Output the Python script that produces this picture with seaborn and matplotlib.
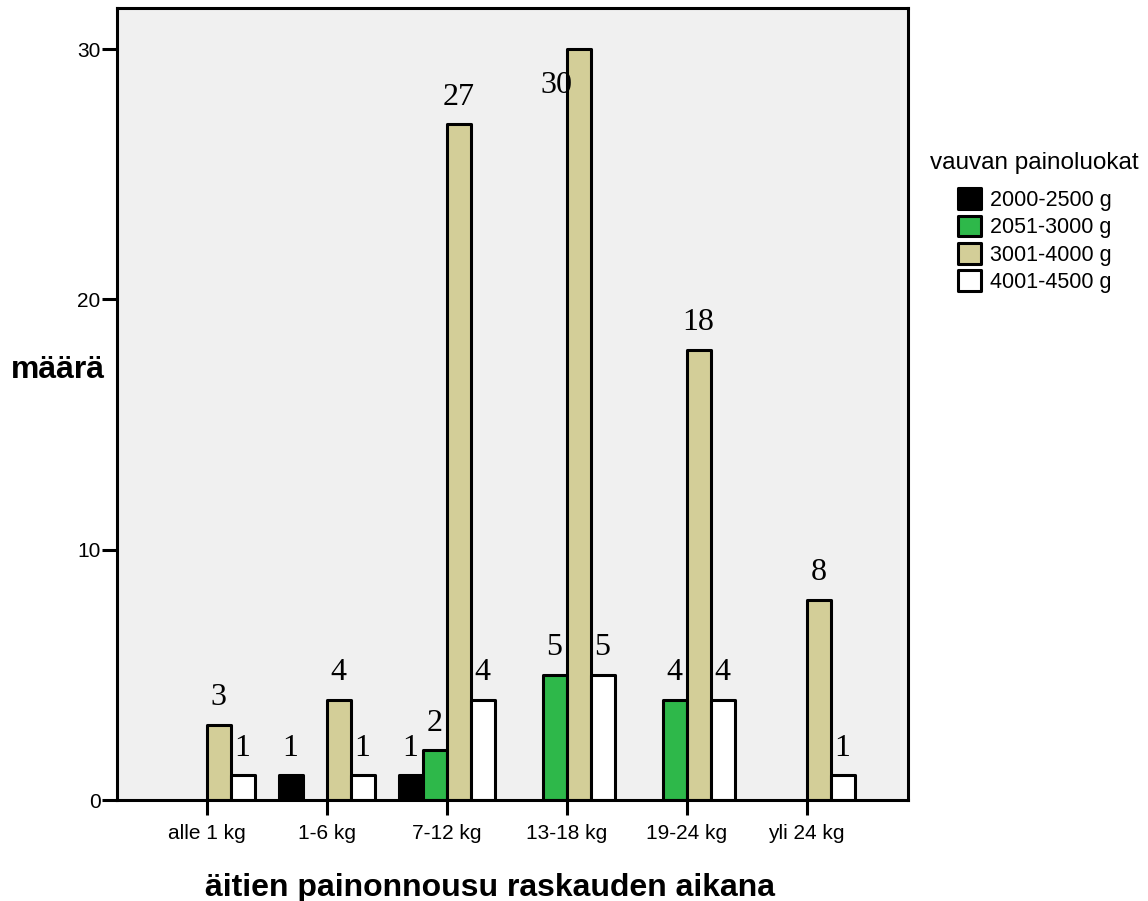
import pandas as pd
import numpy as np
import matplotlib
matplotlib.use("Agg")
import matplotlib.pyplot as plt
import seaborn as sns

# data
paino_luokat = ['alle 1 kg', '1-6 kg', '7-12 kg', '13-18 kg', '19-24 kg', 'yli 24 kg']
vauva_luokat = ['2000-2500 g', '2051-3000 g', '3001-4000 g', '4001-4500 g']
maara_2000_2500 = [0, 1, 1, 0, 0, 0]
maara_2051_3000 = [0, 0, 2, 5, 4, 0]
maara_3001_4000 = [3, 4, 27, 30, 18, 8]
maara_4001_4500 = [1, 1, 4, 5, 4, 1]
varit = ['#000000', '#2EB84A', '#D3CE98', '#FFFFFF']

rivit = []
for luokka, sarja in zip(vauva_luokat, [maara_2000_2500, maara_2051_3000, maara_3001_4000, maara_4001_4500]):
    for paino, m in zip(paino_luokat, sarja):
        if m > 0:
            rivit.append({'paino': paino, 'vauva': luokka, 'maara': m})
df = pd.DataFrame(rivit)

sns.set_style('white')
plt.rcParams['font.family'] = ['Liberation Sans', 'DejaVu Sans']
plt.rcParams['text.color'] = 'black'
plt.rcParams['axes.labelcolor'] = 'black'
plt.rcParams['xtick.color'] = 'black'
plt.rcParams['ytick.color'] = 'black'

fig = plt.figure(figsize=(11.48, 9.01), dpi=100)
ax = fig.add_axes([0.102, 0.112, 0.689, 0.879])
ax.set_facecolor('#F0F0F0')

sns.barplot(data=df, x='paino', y='maara', hue='vauva', order=paino_luokat, hue_order=vauva_luokat,
            palette=dict(zip(vauva_luokat, varit)), saturation=1, width=0.8, gap=0,
            edgecolor='black', linewidth=2.2, ax=ax, errorbar=None)

for bar in ax.patches:
    bar.set_joinstyle('round')

ax.set_xlim(-0.746, 5.846)
ax.set_ylim(0, 31.64)
ax.set_yticks([0, 10, 20, 30])
ax.tick_params(axis='y', direction='out', length=11, width=2.2, labelsize=15, pad=1, left=True)
ax.tick_params(axis='x', direction='out', length=11, width=2.2, labelsize=15, pad=6, bottom=True)
for s in ax.spines.values():
    s.set_linewidth(2.2)
    s.set_color('black')

# value labels above the bars; a label that would hit the top frame goes beside its bar
tekstit = []
for cont in ax.containers:
    for bar, t in zip(cont, ax.bar_label(cont, fmt='%d', padding=9, fontsize=23,
                                          family='Liberation Serif', color='black')):
        tekstit.append((bar, t))
fig.canvas.draw()
ax_top = ax.get_window_extent().y1
for bar, t in tekstit:
    if t.get_window_extent().y1 > ax_top - 4:
        t.xy = (bar.get_x() + 0.05, bar.get_height())
        t.xyann = (0, -16)
        t.set_ha('right')
        t.set_va('top')

ax.set_ylabel('määrä', rotation=0, fontsize=23, fontweight='bold', ha='center', va='center')
ax.yaxis.set_label_coords(-0.0746, 0.543)
ax.set_xlabel('äitien painonnousu raskauden aikana', fontsize=23, fontweight='bold')
ax.xaxis.set_label_coords(0.4716, -0.092)

sns.move_legend(ax, 'upper left', bbox_to_anchor=(1.028, 0.818), frameon=False, title='vauvan painoluokat',
                fontsize=15.5, title_fontsize=17.5, handlelength=1.1, handleheight=1.1, handletextpad=0.4,
                labelspacing=0.22, borderaxespad=0, borderpad=0)
leg = ax.get_legend()
leg._legend_box.sep = 10
for h in leg.legend_handles:
    h.set_linewidth(2.2)
    h.set_edgecolor('black')
    h.set_joinstyle('round')

fig.savefig('out.png', dpi=100)
